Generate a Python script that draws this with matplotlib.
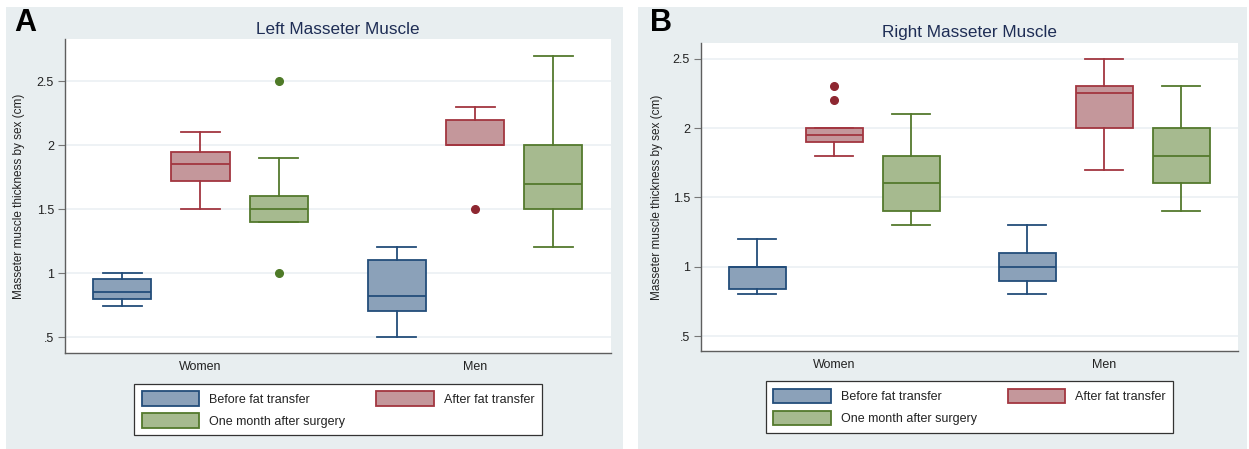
import matplotlib
matplotlib.use("Agg")
import matplotlib.pyplot as plt
from matplotlib.patches import Rectangle, Patch

plt.rcParams['font.family'] = ['Liberation Sans', 'DejaVu Sans']

groups = ["Women", "Men"]
series = ["Before fat transfer", "After fat transfer", "One month after surgery"]

# Left masseter: (whislo, q1, med, q3, whishi, fliers) per group per series
left_before = [(0.74, 0.80, 0.85, 0.95, 1.00, []), (0.50, 0.70, 0.82, 1.10, 1.20, [])]
left_after = [(1.50, 1.72, 1.85, 1.95, 2.10, []), (2.00, 2.00, 2.00, 2.20, 2.30, [1.5])]
left_month = [(1.40, 1.40, 1.50, 1.60, 1.90, [2.5, 1.0]), (1.20, 1.50, 1.70, 2.00, 2.70, [])]

# Right masseter
right_before = [(0.80, 0.84, 1.00, 1.00, 1.20, []), (0.80, 0.90, 1.00, 1.10, 1.30, [])]
right_after = [(1.80, 1.90, 1.95, 2.00, 2.00, [2.2, 2.3]), (1.70, 2.00, 2.25, 2.30, 2.50, [])]
right_month = [(1.30, 1.40, 1.60, 1.80, 2.10, []), (1.40, 1.60, 1.80, 2.00, 2.30, [])]

yticks = [0.5, 1.0, 1.5, 2.0, 2.5]
ytick_labels = [".5", "1", "1.5", "2", "2.5"]

fills = ["#8ba1b9", "#c4979b", "#a6ba8f"]
edges = ["#234d7a", "#a23640", "#54792d"]
flier_cols = ["#234d7a", "#8e2731", "#4e7a27"]
panel_bg = "#e8eef0"
grid_col = "#e9eff2"

fig = plt.figure(figsize=(12.49, 4.49), dpi=100)

# panel backgrounds
fig.add_artist(Rectangle((6/1249, 0), 617/1249, 442/449, transform=fig.transFigure,
                         facecolor=panel_bg, edgecolor='none', zorder=-5))
fig.add_artist(Rectangle((638/1249, 0), 609/1249, 442/449, transform=fig.transFigure,
                         facecolor=panel_bg, edgecolor='none', zorder=-5))


def draw_panel(rect, data, title, ylim, letter, letter_xy, title_y, ylabel_x, legend_center):
    ax = fig.add_axes(rect)
    ax.set_zorder(2)
    ax.set_facecolor("white")
    offs = [-0.285, 0.0, 0.285]
    for si, sdata in enumerate(data):
        stats = []
        pos = []
        for gi, v in enumerate(sdata):
            stats.append(dict(whislo=v[0], q1=v[1], med=v[2], q3=v[3], whishi=v[4], fliers=v[5]))
            pos.append(gi + 1 + offs[si])
        ax.bxp(stats, positions=pos, widths=0.212, capwidths=0.142, patch_artist=True,
               showfliers=True, manage_ticks=False,
               boxprops=dict(facecolor=fills[si], edgecolor=edges[si], linewidth=1.3),
               medianprops=dict(color=edges[si], linewidth=1.3),
               whiskerprops=dict(color=edges[si], linewidth=1.3),
               capprops=dict(color=edges[si], linewidth=1.3),
               flierprops=dict(marker='o', markerfacecolor=flier_cols[si],
                               markeredgecolor=flier_cols[si], markersize=5.5))
    ax.set_xlim(0.507, 2.495)
    ax.set_ylim(*ylim)
    ax.set_xticks([1, 2])
    ax.set_xticklabels(groups, fontsize=9, color="#222222")
    ax.tick_params(axis='x', length=0, pad=6)
    ax.set_yticks(yticks)
    ax.set_yticklabels(ytick_labels, fontsize=9, color="#222222")
    ax.tick_params(axis='y', length=5, width=0.8, color="#777777", pad=3)
    ax.yaxis.grid(True, color=grid_col, linewidth=1.1)
    ax.set_axisbelow(True)
    for s in ['top', 'right']:
        ax.spines[s].set_visible(False)
    for s in ['left', 'bottom']:
        ax.spines[s].set_color("#5e5e5e")
        ax.spines[s].set_linewidth(1.0)
    ax.set_ylabel("Masseter muscle thickness by sex (cm)", fontsize=8.5, color="#222222")
    ax.yaxis.set_label_coords(ylabel_x, 0.5)
    cx = rect[0] + rect[2] / 2
    fig.text(cx, title_y, title, ha='center', va='center', fontsize=12.3, color="#1e2d55")
    fig.text(letter_xy[0], letter_xy[1], letter, ha='left', va='center', fontsize=22,
             fontweight='bold', color='black')
    handles = [Patch(facecolor=fills[0], edgecolor=edges[0], linewidth=1.3),
               Patch(facecolor=fills[2], edgecolor=edges[2], linewidth=1.3),
               Patch(facecolor=fills[1], edgecolor=edges[1], linewidth=1.3)]
    labels = [series[0], series[2], series[1]]
    leg = fig.legend(handles, labels, ncol=2, loc='center',
                     bbox_to_anchor=legend_center, bbox_transform=fig.transFigure,
                     fontsize=9, frameon=True, fancybox=False, edgecolor="#333333",
                     framealpha=1, facecolor="white",
                     handlelength=4.6, handleheight=1.4, handletextpad=0.8,
                     columnspacing=2.5, labelspacing=0.6, borderpad=0.6,
                     borderaxespad=0)
    leg.get_frame().set_linewidth(0.9)
    for t in leg.get_texts():
        t.set_color("#222222")
    return ax


draw_panel([65/1249, 96/449, 546/1249, 314/449],
           [left_before, left_after, left_month],
           "Left Masseter Muscle", (0.375, 2.83), "A", (14/1249, 1 - 23/449),
           1 - 29/449, -0.073, (338/1249, 1 - 409.5/449))

draw_panel([701/1249, 98/449, 537/1249, 308/449],
           [right_before, right_after, right_month],
           "Right Masseter Muscle", (0.392, 2.613), "B", (650/1249, 1 - 23/449),
           1 - 32/449, -0.071, (969.5/1249, 1 - 407/449))

fig.savefig("out.png", dpi=100)
